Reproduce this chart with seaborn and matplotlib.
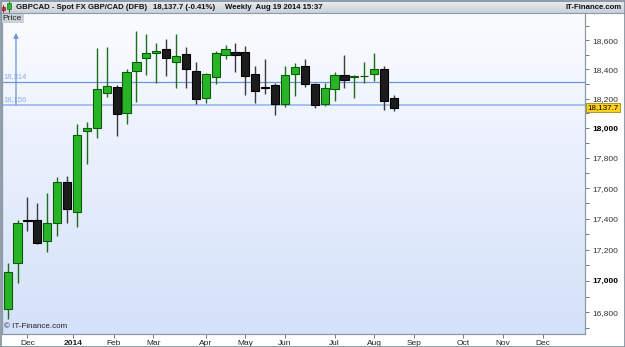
import numpy as np
import pandas as pd
import matplotlib
matplotlib.use("Agg")
import matplotlib.pyplot as plt
import matplotlib.dates as mdates
import matplotlib.ticker as mticker
import matplotlib.transforms as mtransforms
from matplotlib.patches import Rectangle
import seaborn as sns

# ---------------- data ----------------
week_start = "2013-11-18"
n_weeks = 40
opens = [16820, 17116, 17392, 17391, 17255, 17370, 17639, 17446, 17982, 17999,
         18236, 18281, 18104, 18389, 18476, 18511, 18543, 18453, 18508, 18389,
         18206, 18350, 18499, 18523, 18523, 18368, 18279, 18291, 18161, 18366,
         18423, 18299, 18161, 18265, 18361, 18345, 18352, 18366, 18400, 18202]
highs = [17112, 17391, 17544, 17504, 17566, 17672, 17680, 18028, 18043, 18546,
         18557, 18291, 18403, 18666, 18645, 18580, 18608, 18645, 18553, 18451,
         18377, 18529, 18569, 18580, 18562, 18423, 18469, 18304, 18421, 18446,
         18469, 18309, 18309, 18385, 18499, 18361, 18453, 18516, 18423, 18224]
lows = [16759, 16984, 17322, 17234, 17186, 17288, 17374, 17348, 17760, 17935,
        18213, 17947, 18028, 18179, 18361, 18304, 18354, 18270, 18274, 18161,
        18168, 18298, 18473, 18385, 18226, 18168, 18231, 18088, 18145, 18217,
        18277, 18138, 18150, 18184, 18274, 18206, 18304, 18320, 18122, 18116]
closes = [17054, 17370, 17388, 17244, 17374, 17639, 17461, 17954, 18001, 18265,
          18284, 18095, 18380, 18451, 18511, 18526, 18481, 18494, 18400, 18195,
          18366, 18511, 18541, 18502, 18356, 18254, 18275, 18165, 18359, 18414,
          18299, 18158, 18270, 18359, 18330, 18352, 18357, 18400, 18184, 18137.7]

level_upper = 18314
level_lower = 18156
last_price = 18137.7

y_major = [16800, 17000, 17200, 17400, 17600, 17800, 18000, 18200, 18400, 18600]
y_minor = [16700, 16900, 17100, 17300, 17500, 17700, 17900, 18100, 18300, 18500, 18700]
y_bold = [17000, 18000]

month_ticks = ["2013-12-02", "2014-01-03", "2014-02-01", "2014-03-01", "2014-04-07",
               "2014-05-05", "2014-06-02", "2014-07-07", "2014-08-04", "2014-09-01",
               "2014-10-06", "2014-11-03", "2014-12-01"]
month_labels = ["Dec", "2014", "Feb", "Mar", "Apr", "May", "Jun", "Jul", "Aug",
                "Sep", "Oct", "Nov", "Dec"]

header_title = "GBPCAD - Spot FX GBP/CAD (DFB)"
header_price = "18,137.7 (-0.41%)"
header_when = "Weekly  Aug 19 2014 15:37"
brand = "IT-Finance.com"

# ---------------- style ----------------
sns.set_style("white")
plt.rcParams['font.family'] = ['Liberation Sans', 'DejaVu Sans']

W, H = 625, 347
fig = plt.figure(figsize=(W / 100, H / 100), dpi=100)
fig.patch.set_facecolor("white")

left_px, right_px, top_px, bot_px = 2, 585, 13, 334
pos = [left_px / W, 1 - bot_px / H, (right_px - left_px) / W, (bot_px - top_px) / H]

# background gradient
bg = fig.add_axes(pos, zorder=0)
grad = np.linspace(0, 1, 256)[:, None]
top_c = np.array([251, 252, 255]) / 255
bot_c = np.array([212, 225, 250]) / 255
img = top_c[None, None, :] * (1 - grad[:, :, None]) + bot_c[None, None, :] * grad[:, :, None]
bg.imshow(img, aspect="auto", extent=[0, 1, 0, 1])
bg.set_axis_off()

ax = fig.add_axes(pos, zorder=1)
ax.set_facecolor("none")

df = pd.DataFrame({
    "date": pd.date_range(week_start, periods=n_weeks, freq="7D"),
    "open": opens, "high": highs, "low": lows, "close": closes,
})
df["x"] = mdates.date2num(df["date"])
df["up"] = df["close"] >= df["open"]

green_fill, green_edge = "#27B527", "#0A5A0A"
black_fill, black_edge = "#1C1C1C", "#000000"
wick_up, wick_dn = "#1E6B1E", "#3A3A3A"

ax.vlines(df["x"], df["low"], df["high"],
          colors=[wick_up if u else wick_dn for u in df["up"]], linewidth=1.0, zorder=2)
body_lo = np.minimum(df["open"], df["close"])
body_h = np.maximum(np.abs(df["close"] - df["open"]), 4)
ax.bar(df["x"], body_h, bottom=body_lo, width=5.8,
       color=[green_fill if u else black_fill for u in df["up"]],
       edgecolor=[green_edge if u else black_edge for u in df["up"]],
       linewidth=0.8, zorder=3)

ax.axhline(level_upper, color="#6E93DB", lw=0.9, zorder=1.5)
ax.axhline(level_lower, color="#9FBCEE", lw=1.3, zorder=1.5)

ax.set_yscale("log")
ax.set_ylim(16665, 18792)
ax.set_xlim(mdates.date2num(pd.Timestamp("2013-11-14")), mdates.date2num(pd.Timestamp("2014-12-31")))

# y axis on the right
ax.yaxis.tick_right()
ax.yaxis.set_major_locator(mticker.FixedLocator(y_major))
ax.yaxis.set_minor_locator(mticker.FixedLocator(y_minor))
ax.yaxis.set_major_formatter(mticker.FuncFormatter(lambda v, p: f"{v:,.0f}"))
ax.yaxis.set_minor_formatter(mticker.NullFormatter())
ax.tick_params(axis="y", which="both", direction="out", length=3, width=0.7,
               color="#6B7785", labelsize=6, labelcolor="#333333", pad=2,
               right=True, left=False)
for lab in ax.get_yticklabels():
    try:
        if float(lab.get_text().replace(",", "")) in y_bold:
            lab.set_fontweight("bold")
            lab.set_color("#000000")
    except ValueError:
        pass

# x axis months
ax.xaxis.set_major_locator(mticker.FixedLocator(mdates.date2num(pd.to_datetime(month_ticks))))
ax.xaxis.set_major_formatter(mticker.FixedFormatter(month_labels))
ax.xaxis.set_minor_locator(mticker.NullLocator())
ax.tick_params(axis="x", which="major", direction="out", length=3, width=0.7,
               color="#6B7785", labelsize=6, labelcolor="#222222", pad=1.5, bottom=True)
for lab in ax.get_xticklabels():
    if lab.get_text() == "2014":
        lab.set_fontweight("bold")

for s in ["left", "bottom", "right"]:
    ax.spines[s].set_color("#8C9AA8")
    ax.spines[s].set_linewidth(0.9)
ax.spines["top"].set_visible(False)
ax.grid(False)

# level labels and arrow
bl = mtransforms.blended_transform_factory(ax.transAxes, ax.transData)
ax.text(0.002, level_upper * 1.0006, "18,314", transform=bl, fontsize=5.5,
        color="#8DAEE6", ha="left", va="bottom", zorder=4)
ax.text(0.002, level_lower * 1.0006, "18,156", transform=bl, fontsize=5.5,
        color="#8DAEE6", ha="left", va="bottom", zorder=4)
ax.annotate("", xy=(0.024, 18652), xytext=(0.024, level_lower), xycoords=bl, textcoords=bl,
            arrowprops=dict(arrowstyle="-|>", color="#6E93DB", lw=0.9,
                            mutation_scale=7, shrinkA=0, shrinkB=0), zorder=4)

# last price tag
ax.text(1.004, last_price, "18,137.7", transform=bl, fontsize=5.8, color="#000000",
        ha="left", va="center", zorder=5, clip_on=False,
        bbox=dict(boxstyle="square,pad=0.12", facecolor="#FFD11A", edgecolor="#A08A20", lw=0.6))

ax.text(0.003, 0.012, "\u00a9 IT-Finance.com", transform=ax.transAxes, fontsize=5.8,
        color="#222222", ha="left", va="bottom", zorder=4)

# ---------------- overlay (pixel coordinates) ----------------
ov = fig.add_axes([0, 0, 1, 1], zorder=10)
ov.set_xlim(0, W)
ov.set_ylim(H, 0)
ov.set_axis_off()
ov.patch.set_alpha(0)

hgrad = np.linspace(0, 1, 64)[:, None]
htop = np.array([236, 239, 242]) / 255
hbot = np.array([200, 208, 216]) / 255
himg = htop[None, None, :] * (1 - hgrad[:, :, None]) + hbot[None, None, :] * hgrad[:, :, None]
ov.imshow(himg, aspect="auto", extent=[0, W, 13, 0], zorder=1)
ov.plot([0, W], [13, 13], color="#8C9AA8", lw=0.8, zorder=2)

# icon
ov.plot([3.2, 3.2], [4.5, 11.5], color="#8B0000", lw=0.6, zorder=3)
ov.add_patch(Rectangle((1.8, 6.5), 3, 3.5, facecolor="#E02020", edgecolor="#800000", lw=0.4, zorder=4))
ov.plot([9, 9], [1, 11.5], color="#0A5A0A", lw=0.6, zorder=3)
ov.add_patch(Rectangle((7.4, 2.7), 3.3, 6.6, facecolor="#22C022", edgecolor="#0A5A0A", lw=0.4, zorder=4))

hfont = ['Liberation Sans', 'DejaVu Sans']
hsize = 5.6
ov.text(16, 7, header_title, fontsize=hsize, fontweight="bold", family=hfont,
        color="#111111", ha="left", va="center", zorder=5)
ov.text(153, 7, header_price, fontsize=hsize, fontweight="bold", family=hfont,
        color="#111111", ha="left", va="center", zorder=5)
ov.text(225, 7, header_when, fontsize=hsize, fontweight="bold", family=hfont,
        color="#111111", ha="left", va="center", zorder=5)
ov.text(622, 7, brand, fontsize=hsize, fontweight="bold", family=hfont,
        color="#111111", ha="right", va="center", zorder=5)

# Price label box
ov.add_patch(Rectangle((1, 14), 23, 8.5, facecolor="#C9D0D7", edgecolor="none", zorder=5))
ov.text(2.5, 18.3, "Price", fontsize=6.0, family=hfont, color="#222222",
        ha="left", va="center", zorder=6)

# outer frame
ov.add_patch(Rectangle((0.5, 0.5), W - 1, H - 1, facecolor="none", edgecolor="#7E8C9A", lw=1.2, zorder=7))

fig.savefig("out.png", dpi=100)
